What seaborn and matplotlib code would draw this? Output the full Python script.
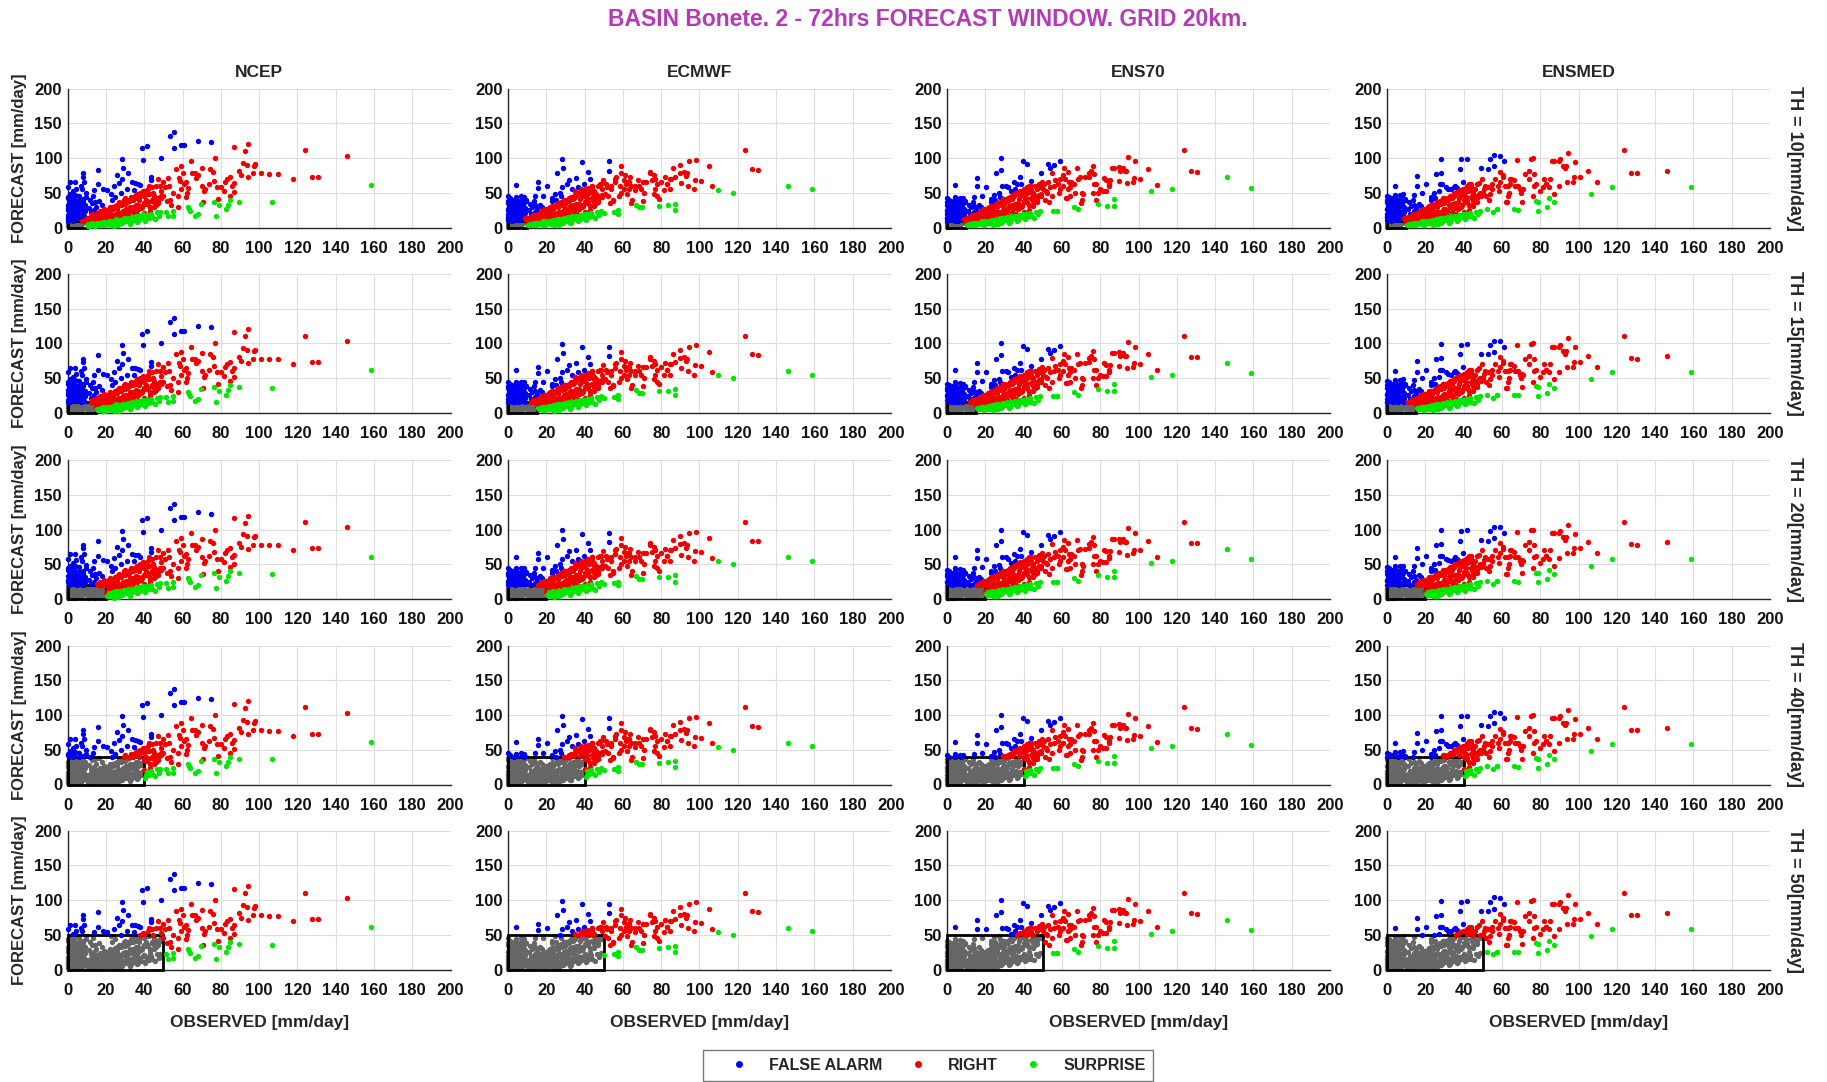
import matplotlib
matplotlib.use("Agg")
import matplotlib.pyplot as plt
from matplotlib.lines import Line2D
from matplotlib.patches import Rectangle
import pandas as pd
import seaborn as sns

# ---------------------------------------------------------------- data
MODELS = ["NCEP", "ECMWF", "ENS70", "ENSMED"]
THRESHOLDS = [10, 15, 20, 40, 50]

# observed daily rainfall [mm/day] -- bulk of light/moderate days
observed_low = [
    0, 0, 0, 0, 0, 0, 0, 0, 0.5, 0.5,
    0.5, 1, 1, 1, 1, 1, 1.5, 1.5, 2, 2,
    2, 2, 2.5, 2.5, 3, 3, 3, 3, 3.5, 3.5,
    4, 4, 4, 4, 4.5, 4.5, 5, 5, 0.2, 0.8,
    1.2, 1.8, 2.2, 2.8, 3.2, 3.8, 4.2, 4.8, 0.3, 1.4,
    5.5, 5.5, 6, 6, 6, 6.5, 6.5, 7, 7, 7,
    7.5, 7.5, 8, 8, 8, 8.2, 8.2, 8.5, 8.5, 9,
    9, 9, 9.5, 9.5, 10, 5.8, 6.8, 7.8, 8.8, 9.8,
    10.5, 10.5, 11, 11, 11, 11.5, 11.5, 12, 12, 12,
    12.5, 12.5, 13, 13, 13, 13.5, 13.5, 14, 14, 14,
    14.5, 14.5, 15, 15, 15, 15.5, 15.8, 15.8, 16, 16,
    16.5, 17, 17, 17.5, 18, 18, 18.3, 18.5, 19, 19,
    19.5, 20, 20, 20.5, 20.5, 10.2, 12.8, 14.2, 16.8, 18.8,
    21, 21, 21.5, 22, 22, 22.5, 23, 23, 23.5, 24,
    24, 24.3, 24.5, 25, 25, 25.6, 26, 26, 26.5, 27,
    27, 27.5, 28, 28, 28.2, 28.3, 28.7, 29, 29, 29.5,
    30, 30, 22.8, 25.8, 27.8, 21.8, 23.8, 26.8, 29.8, 24.8,
    30.5, 31, 31, 31.8, 32, 32, 32.5, 33, 33, 33.6,
    34, 34, 34.8, 35, 35.3, 35.5, 36, 36, 36.7, 37,
    37, 37.5, 38, 38, 38.6, 39, 39.5, 39.6, 40, 40,
    41, 41.7, 42, 42.6, 43, 43.7, 43.8, 44, 44.5, 45,
]

# further light/moderate days
observed_mid = [
    0, 0, 0, 0.5, 0.5, 1, 1, 1.5, 2, 2,
    2.5, 3, 3, 3.5, 4, 4, 5, 5.5, 6, 7,
    7.5, 8, 9, 9.5, 0, 1, 2, 3, 4, 6,
    10.5, 11, 12, 12.5, 13, 14, 15, 15.5, 16, 17,
    17.5, 18, 19, 20, 21, 22, 22.5, 23, 24, 25,
    25.5, 26, 27, 27.5, 28, 29, 30, 31, 31.5, 32,
    33, 34, 34.5, 35, 36, 36.5, 37, 38, 39, 40,
    41, 42, 43, 44, 45, 12, 16.5, 21.5, 26.5, 33.5,
    38.5, 40.5, 42.5, 44.2, 46, 47, 48, 49, 35.8, 29.4,
    10.5, 11.5, 12.5, 13.5, 14.5, 15.5, 16.5, 17.5, 18.5, 19.5,
    20.5, 21.5, 22.5, 23.5, 24.5, 25.5, 26.5, 27.5, 28.5, 29.5,
    30.5, 31.5, 32.5, 33.5, 34.5, 35.5, 36.5, 37.5, 38.5, 39.5,
    40.5, 41.5, 42.5, 43.5, 45.5, 46.5, 47.5, 48.5, 32.8, 24.2,
    30, 32, 34, 36, 38, 40, 42, 44, 46, 48,
    31, 33, 35, 37, 39, 41, 43, 45, 47, 49,
]

# observed daily rainfall [mm/day] -- heavy days
observed_high = [
    158.6, 146.0, 130.6, 127.5, 124.0, 117.6, 109.7,
    106.6, 105.0, 101.0, 98.0, 97.4, 97.0, 94.3,
    94.0, 93.5, 92.7, 91.8, 89.7, 89.7, 87.0,
    87.0, 87.0, 84.9, 84.7, 84.7, 83.8, 83.0,
    82.8, 82.0, 81.6, 79.0, 78.6, 78.0, 77.7,
    77.0, 76.7, 76.5, 76.0, 74.4, 74.0, 72.0,
    70.6, 70.4, 70.0, 69.6, 68.2, 68.0, 67.0,
    66.4, 66.3, 65.0, 64.3, 64.0, 63.5, 63.0,
    62.0, 61.7, 61.0, 60.5, 59.0, 59.0, 59.0,
    58.0, 58.6, 57.7, 56.5, 55.8, 55.7, 55.3,
    55.0, 54.8, 54.0, 53.7, 53.5, 52.5, 52.7,
    52.2, 51.8, 51.3, 50.8, 50.0, 49.6, 49.0,
    48.7, 47.0, 46.0, 45.0, 75.0, 68.2, 60.7,
    62.6, 57.5, 71.0, 80.0, 90.5, 86.0, 63.0,
]

# 72h forecasts [mm/day], same days as observed_low / observed_mid / observed_high
ncep_low = [
    2, 5, 8, 12, 18, 25, 33, 58, 3, 14,
    40, 1, 9, 22, 30, 48, 6, 16, 4, 11,
    27, 36, 7, 45, 2, 19, 31, 52, 8, 24,
    5, 13, 38, 65, 9, 28, 3, 20, 44, 15,
    65, 35, 21, 10, 42, 17, 56, 26, 7, 29,
    4, 18, 12, 30, 46, 8, 22, 3, 15, 35,
    10, 55, 6, 20, 41, 78, 73, 65, 27, 9,
    14, 32, 12, 49, 8, 25, 60, 38, 17, 11,
    5, 14, 2, 12, 28, 8, 40, 4, 16, 22,
    6, 35, 3, 11, 19, 7, 45, 15, 54, 25,
    5, 18, 9, 13, 30, 21, 83, 62, 4, 17,
    38, 6, 24, 12, 20, 33, 56, 8, 14, 27,
    3, 10, 22, 54, 18, 9, 17, 36, 11, 7,
    5, 25, 14, 30, 9, 20, 12, 40, 26, 7,
    18, 59, 31, 15, 44, 75, 10, 28, 22, 64,
    36, 17, 6, 32, 98, 70, 86, 24, 12, 40,
    19, 34, 48, 4, 50, 16, 29, 8, 21, 13,
    26, 55, 11, 78, 38, 16, 30, 8, 44, 65,
    22, 40, 54, 14, 64, 33, 19, 47, 63, 26,
    10, 40, 61, 17, 114, 30, 97, 53, 21, 45,
    13, 117, 36, 60, 24, 73, 68, 15, 50, 30,
]
ncep_mid = [
    15, 28, 42, 20, 35, 13, 26, 38, 17, 32,
    23, 12, 40, 29, 19, 47, 34, 14, 40, 25,
    33, 19, 24, 44, 10, 6, 3, 4, 2, 5,
    9, 13, 10, 15, 11, 17, 12, 19, 14, 20,
    13, 22, 15, 24, 17, 26, 16, 29, 18, 30,
    20, 33, 19, 35, 21, 34, 25, 38, 22, 40,
    27, 42, 24, 45, 29, 48, 26, 50, 31, 52,
    34, 55, 30, 58, 36, 9, 20, 27, 32, 41,
    28, 36, 48, 38, 42, 35, 60, 45, 46, 38,
    2, 4, 3, 5, 2, 6, 4, 7, 3, 8,
    5, 9, 4, 10, 7, 12, 3, 11, 6, 13,
    9, 14, 5, 15, 11, 17, 8, 16, 13, 19,
    10, 18, 14, 20, 12, 22, 17, 23, 6, 2,
    42, 38, 30, 28, 45, 35, 48, 40, 33, 44,
    36, 27, 42, 32, 48, 40, 29, 46, 38, 42,
]
ncep_high = [
    61, 103, 73, 73, 111, 70, 77,
    36, 77, 78, 91, 89, 78, 120,
    72, 90, 110, 93, 81, 37, 116,
    64, 51, 73, 46, 40, 33, 70,
    26, 66, 53, 32, 41, 58, 16,
    100, 67, 37, 80, 84, 62, 55,
    36, 86, 60, 34, 20, 75, 71,
    78, 17, 78, 95, 24, 27, 30,
    65, 44, 118, 78, 118, 88, 55,
    71, 67, 30, 84, 114, 137, 24,
    17, 50, 33, 131, 40, 71, 60,
    16, 38, 23, 58, 45, 66, 100,
    53, 70, 60, 45, 123, 125, 62,
    50, 45, 52, 58, 75, 60, 57,
]

ecmwf_low = [
    1, 4, 7, 11, 15, 20, 26, 45, 2, 12,
    33, 1, 8, 18, 24, 38, 5, 14, 3, 10,
    22, 30, 6, 36, 2, 16, 26, 40, 7, 20,
    4, 11, 31, 61, 8, 24, 3, 17, 35, 13,
    42, 28, 18, 9, 34, 15, 44, 22, 6, 25,
    4, 16, 11, 26, 38, 7, 19, 3, 13, 30,
    9, 42, 6, 18, 34, 44, 36, 40, 23, 8,
    13, 28, 11, 38, 8, 22, 45, 32, 15, 10,
    6, 13, 3, 12, 25, 9, 34, 5, 15, 20,
    7, 30, 4, 12, 18, 8, 38, 15, 45, 23,
    6, 17, 10, 14, 27, 20, 66, 57, 5, 17,
    33, 7, 23, 13, 20, 30, 45, 9, 14, 26,
    4, 11, 22, 60, 18, 10, 17, 32, 12, 8,
    6, 25, 15, 30, 10, 21, 13, 38, 26, 8,
    19, 48, 31, 16, 40, 78, 11, 29, 23, 50,
    35, 18, 7, 33, 99, 58, 86, 25, 13, 40,
    20, 34, 42, 5, 45, 17, 30, 9, 22, 14,
    27, 62, 12, 69, 38, 17, 31, 9, 44, 55,
    23, 41, 52, 15, 71, 34, 20, 48, 58, 27,
    11, 41, 55, 18, 94, 31, 62, 52, 22, 46,
    14, 80, 37, 70, 25, 60, 56, 16, 50, 31,
]
ecmwf_mid = [
    14, 25, 38, 18, 30, 12, 23, 34, 16, 28,
    21, 11, 36, 26, 17, 41, 30, 13, 35, 22,
    29, 17, 21, 39, 9, 5, 3, 4, 2, 5,
    10, 14, 11, 16, 12, 18, 13, 20, 15, 21,
    14, 23, 16, 26, 18, 28, 17, 31, 19, 32,
    21, 35, 20, 37, 22, 36, 26, 40, 23, 42,
    28, 44, 25, 47, 30, 50, 27, 52, 32, 55,
    35, 57, 31, 60, 37, 10, 21, 28, 33, 43,
    29, 38, 50, 40, 44, 36, 62, 47, 48, 40,
    3, 5, 4, 6, 3, 7, 5, 8, 4, 9,
    6, 10, 5, 11, 8, 12, 4, 12, 7, 14,
    10, 15, 6, 16, 12, 17, 9, 18, 14, 19,
    11, 20, 15, 21, 13, 23, 18, 24, 7, 3,
    40, 40, 32, 30, 44, 37, 50, 42, 35, 46,
    38, 29, 44, 34, 47, 42, 31, 48, 40, 44,
]
ecmwf_high = [
    55, 60, 83, 84, 111, 50, 54,
    59, 88, 67, 97, 69, 55, 95,
    60, 78, 74, 80, 90, 79, 73,
    34, 25, 70, 55, 70, 32, 62,
    62, 72, 54, 31, 41, 62, 45,
    70, 55, 48, 75, 78, 80, 66,
    66, 38, 29, 55, 29, 68, 33,
    54, 60, 40, 35, 60, 72, 66,
    48, 62, 75, 55, 78, 88, 50,
    45, 60, 20, 72, 65, 70, 23,
    38, 40, 55, 60, 35, 95, 82,
    45, 58, 62, 48, 21, 69, 55,
    62, 60, 48, 52, 68, 60, 68,
    66, 25, 50, 66, 64, 85, 55,
]

ens70_low = [
    1, 4, 7, 10, 14, 19, 25, 42, 2, 11,
    31, 1, 7, 17, 23, 36, 5, 13, 3, 9,
    21, 29, 6, 34, 2, 15, 25, 38, 7, 19,
    4, 10, 30, 61, 8, 23, 3, 16, 33, 12,
    40, 27, 17, 9, 32, 14, 44, 21, 5, 24,
    4, 15, 10, 25, 36, 7, 18, 3, 12, 29,
    9, 40, 6, 17, 33, 42, 35, 38, 22, 8,
    12, 27, 10, 37, 8, 21, 43, 31, 14, 10,
    6, 13, 3, 12, 24, 9, 33, 5, 15, 20,
    7, 29, 4, 12, 18, 8, 37, 15, 44, 22,
    6, 17, 10, 14, 26, 20, 71, 59, 5, 17,
    32, 7, 23, 13, 20, 29, 46, 9, 14, 26,
    4, 11, 22, 58, 18, 10, 17, 31, 12, 8,
    6, 25, 15, 29, 10, 21, 13, 37, 26, 8,
    19, 47, 31, 16, 40, 78, 11, 29, 23, 49,
    35, 18, 7, 33, 100, 83, 60, 25, 13, 39,
    20, 34, 41, 5, 44, 17, 30, 9, 22, 14,
    27, 60, 12, 58, 38, 17, 31, 9, 44, 52,
    23, 41, 65, 15, 55, 34, 20, 48, 62, 27,
    11, 41, 72, 18, 62, 31, 96, 52, 22, 46,
    14, 92, 37, 60, 25, 67, 54, 16, 50, 31,
]
ens70_mid = [
    13, 24, 36, 17, 29, 12, 22, 33, 15, 27,
    20, 11, 35, 25, 16, 40, 29, 13, 34, 21,
    28, 16, 20, 38, 8, 5, 3, 4, 2, 5,
    10, 14, 12, 16, 13, 18, 14, 20, 16, 21,
    15, 23, 17, 26, 19, 28, 18, 31, 20, 33,
    22, 35, 21, 37, 23, 36, 27, 40, 24, 42,
    29, 45, 26, 48, 31, 50, 28, 53, 33, 55,
    36, 58, 32, 60, 38, 10, 21, 28, 34, 44,
    30, 39, 52, 41, 45, 37, 63, 48, 49, 41,
    3, 5, 5, 6, 4, 7, 6, 8, 5, 9,
    7, 10, 6, 11, 9, 12, 5, 13, 8, 14,
    11, 15, 7, 16, 13, 17, 10, 18, 15, 19,
    12, 20, 16, 21, 14, 23, 19, 24, 8, 4,
    41, 41, 33, 31, 45, 38, 50, 43, 36, 47,
    39, 30, 45, 35, 48, 43, 32, 49, 41, 45,
]
ens70_high = [
    57, 72, 80, 81, 111, 55, 61,
    52, 84, 70, 95, 71, 66, 102,
    64, 82, 82, 86, 87, 67, 86,
    41, 31, 69, 62, 59, 31, 53,
    69, 71, 53, 34, 50, 62, 40,
    77, 62, 50, 89, 79, 73, 72,
    50, 40, 35, 72, 26, 85, 50,
    62, 30, 65, 45, 58, 65, 55,
    43, 70, 85, 60, 96, 70, 55,
    62, 50, 24, 68, 90, 60, 24,
    45, 79, 58, 86, 36, 92, 65,
    50, 52, 40, 62, 55, 66, 78,
    58, 55, 60, 50, 82, 70, 75,
    43, 24, 48, 55, 82, 86, 80,
]

ensmed_low = [
    1, 4, 7, 11, 15, 20, 27, 46, 2, 12,
    34, 1, 8, 18, 25, 39, 5, 14, 3, 10,
    22, 31, 6, 37, 2, 16, 27, 42, 7, 21,
    4, 11, 32, 60, 8, 25, 3, 17, 36, 13,
    44, 29, 18, 9, 35, 15, 47, 23, 6, 26,
    4, 16, 11, 27, 40, 7, 20, 3, 13, 31,
    9, 44, 6, 18, 35, 48, 38, 41, 24, 8,
    13, 29, 11, 40, 8, 23, 47, 34, 15, 10,
    6, 13, 3, 12, 26, 9, 36, 5, 15, 20,
    7, 31, 4, 12, 18, 8, 40, 15, 47, 24,
    6, 17, 10, 14, 28, 20, 74, 59, 5, 17,
    34, 7, 24, 13, 20, 31, 50, 9, 14, 27,
    4, 11, 22, 62, 18, 10, 17, 33, 12, 8,
    6, 26, 15, 31, 10, 21, 13, 40, 27, 8,
    19, 50, 32, 16, 42, 77, 11, 30, 23, 52,
    37, 18, 7, 34, 99, 79, 62, 25, 13, 41,
    20, 35, 44, 5, 62, 17, 31, 9, 22, 14,
    27, 58, 12, 56, 39, 17, 32, 9, 46, 55,
    23, 42, 58, 15, 60, 35, 20, 50, 57, 27,
    11, 42, 84, 18, 98, 32, 66, 55, 22, 47,
    14, 99, 38, 62, 25, 60, 58, 16, 52, 31,
]
ensmed_mid = [
    15, 26, 40, 19, 32, 13, 24, 36, 17, 30,
    22, 12, 38, 27, 18, 43, 31, 14, 37, 23,
    31, 18, 22, 41, 9, 5, 3, 4, 2, 5,
    10, 15, 12, 17, 13, 19, 14, 21, 16, 22,
    15, 24, 17, 27, 19, 29, 18, 32, 20, 34,
    22, 36, 21, 38, 23, 37, 27, 41, 24, 43,
    29, 46, 26, 49, 31, 51, 28, 54, 33, 56,
    36, 59, 32, 62, 38, 10, 22, 29, 34, 45,
    30, 40, 53, 42, 46, 37, 64, 49, 50, 42,
    3, 5, 5, 6, 4, 7, 6, 8, 5, 9,
    7, 10, 6, 11, 9, 12, 5, 13, 8, 14,
    11, 15, 7, 16, 13, 17, 10, 18, 15, 19,
    12, 20, 16, 21, 14, 23, 19, 24, 8, 4,
    42, 42, 34, 32, 46, 39, 52, 44, 37, 48,
    40, 31, 46, 36, 49, 44, 33, 50, 42, 46,
]
ensmed_high = [
    58, 82, 78, 79, 111, 58, 66,
    48, 82, 73, 94, 73, 66, 107,
    66, 89, 85, 89, 95, 59, 95,
    48, 36, 70, 42, 58, 29, 62,
    62, 70, 58, 37, 24, 62, 38,
    77, 60, 45, 100, 82, 70, 77,
    56, 37, 50, 55, 25, 97, 60,
    68, 26, 70, 62, 70, 50, 45,
    36, 60, 95, 75, 103, 80, 66,
    60, 52, 26, 70, 88, 104, 22,
    55, 62, 48, 98, 40, 84, 58,
    26, 45, 60, 56, 50, 70, 85,
    50, 62, 55, 48, 99, 60, 72,
    36, 26, 55, 52, 98, 95, 60,
]

CATEGORIES = ["FALSE ALARM", "RIGHT", "SURPRISE"]
COLORS = {"BELOW": "#666666", "FALSE ALARM": "#0000F0",
          "RIGHT": "#F00000", "SURPRISE": "#00E600"}

observed = observed_low + observed_mid + observed_high
forecasts = {
    "NCEP": ncep_low + ncep_mid + ncep_high,
    "ECMWF": ecmwf_low + ecmwf_mid + ecmwf_high,
    "ENS70": ens70_low + ens70_mid + ens70_high,
    "ENSMED": ensmed_low + ensmed_mid + ensmed_high,
}
df = pd.DataFrame({"observed": observed, **forecasts})


def classify(obs, fc, th):
    """Both below threshold -> BELOW, otherwise judged by forecast/observed ratio."""
    if obs < th and fc < th:
        return "BELOW"
    if fc > 1.5 * obs:
        return "FALSE ALARM"
    if fc < 0.5 * obs:
        return "SURPRISE"
    return "RIGHT"


# ---------------------------------------------------------------- style
sns.set_style("white")
plt.rcParams["font.family"] = ["Liberation Sans", "DejaVu Sans"]
plt.rcParams["font.weight"] = "bold"
plt.rcParams["axes.titleweight"] = "bold"
plt.rcParams["axes.labelweight"] = "bold"

W, H = 1827, 1082
fig = plt.figure(figsize=(W / 100, H / 100), dpi=100, facecolor="white")

COL_LEFT = [67.6, 508, 947, 1387]
ROW_TOP = [88.5, 273.8, 460, 645.5, 830.7]
AX_W, AX_H = 383, 139
DARK = "#262626"
DOT = 15

for r, th in enumerate(THRESHOLDS):
    for c, model in enumerate(MODELS):
        ax = fig.add_axes([COL_LEFT[c] / W, 1 - (ROW_TOP[r] + AX_H) / H,
                           AX_W / W, AX_H / H])
        cls = [classify(o, f, th) for o, f in zip(df["observed"], df[model])]
        sub_all = df.assign(cls=cls)

        below = sub_all[sub_all["cls"] == "BELOW"]
        if len(below):
            sns.scatterplot(data=below, x="observed", y=model, color=COLORS["BELOW"],
                            s=DOT, linewidth=0, ax=ax, clip_on=False, legend=False,
                            zorder=2)
        ax.add_patch(Rectangle((0, 0), th, th, fill=False, edgecolor="black",
                               linewidth=2, zorder=3, clip_on=False))
        for z, cat in enumerate(CATEGORIES):
            sub = sub_all[sub_all["cls"] == cat]
            if len(sub):
                sns.scatterplot(data=sub, x="observed", y=model, color=COLORS[cat],
                                s=DOT, linewidth=0, ax=ax, clip_on=False,
                                legend=False, zorder=4 + z)

        ax.set_xlim(0, 200)
        ax.set_ylim(0, 200)
        ax.set_xticks(range(0, 201, 20))
        ax.set_yticks(range(0, 201, 50))
        ax.set_xlabel("")
        ax.set_ylabel("")
        ax.grid(True, color="#dedede", linewidth=0.8)
        ax.set_axisbelow(True)
        for side in ("top", "right"):
            ax.spines[side].set_visible(False)
        for side in ("left", "bottom"):
            ax.spines[side].set_color(DARK)
            ax.spines[side].set_linewidth(1.0)
        ax.tick_params(axis="x", direction="in", length=8.5, width=1, color=DARK,
                       labelsize=12, pad=9.5, labelcolor="#111111")
        ax.tick_params(axis="y", direction="in", length=7, width=1, color=DARK,
                       labelsize=12, pad=4, labelcolor="#111111")
        for lab in ax.get_xticklabels() + ax.get_yticklabels():
            lab.set_fontweight("bold")

        if r == 0:
            ax.set_title(model, fontsize=12.5, fontweight="bold", pad=8)
        if r == len(THRESHOLDS) - 1:
            fig.text((COL_LEFT[c] + AX_W / 2) / W, 1 - 1023 / H, "OBSERVED [mm/day]",
                     ha="center", va="center", fontsize=12.5, fontweight="bold")

    yc = 1 - (ROW_TOP[r] + AX_H / 2) / H
    fig.text(20 / W, yc, "FORECAST [mm/day]", rotation=90, ha="center",
             va="center", fontsize=12, fontweight="bold")
    fig.text(1795 / W, yc, f"TH = {th}[mm/day]", rotation=270, ha="center",
             va="center", fontsize=13, fontweight="bold")

fig.text(0.508, 1 - 20 / H, "BASIN Bonete. 2 - 72hrs FORECAST WINDOW. GRID 20km.",
         ha="center", va="center", fontsize=16.5, fontweight="bold", color="#B53AB5")

handles = [Line2D([], [], marker="o", linestyle="", color=COLORS[cat],
                  markersize=4, label=cat) for cat in CATEGORIES]
leg = fig.legend(handles=handles, ncol=3, loc="lower center",
                 bbox_to_anchor=(0.508, 1.5 / H), borderaxespad=0,
                 frameon=True, fancybox=False,
                 edgecolor="#555555", fontsize=11.5, handlelength=3.5,
                 handletextpad=0.15, columnspacing=0.45, borderpad=0.5)
leg.get_frame().set_linewidth(1.0)
for t in leg.get_texts():
    t.set_fontweight("bold")

fig.savefig("out.png", dpi=100, facecolor="white")
